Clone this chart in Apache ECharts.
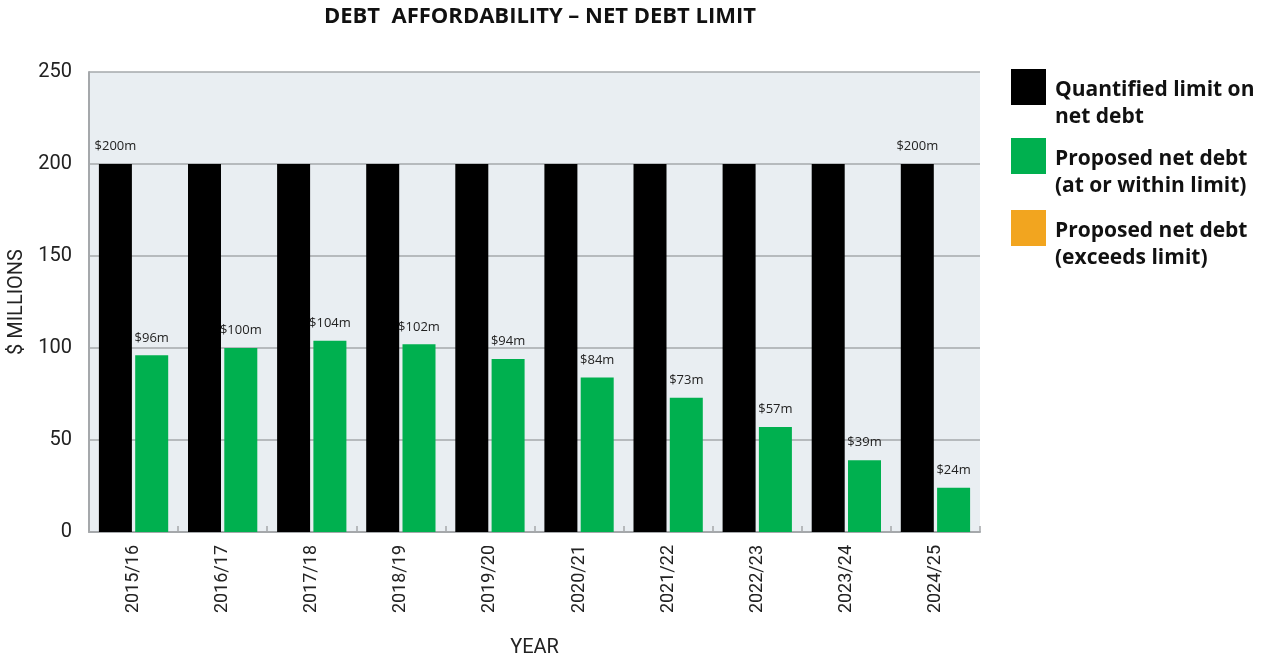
<!DOCTYPE html>
<html>
<head>
<meta charset="utf-8">
<title>Debt affordability - net debt limit</title>
<script src="https://cdn.jsdelivr.net/npm/echarts@6/dist/echarts.min.js"></script>
<style>
  html, body { margin: 0; padding: 0; background: #fff; }
  #chart { width: 1263px; height: 655px; }
</style>
</head>
<body>
<div id="chart"></div>
<script>
// data
var years = ['2015/16', '2016/17', '2017/18', '2018/19', '2019/20', '2020/21', '2021/22', '2022/23', '2023/24', '2024/25'];
var limitValues = [200, 200, 200, 200, 200, 200, 200, 200, 200, 200];
var proposedValues = [96, 100, 104, 102, 94, 84, 73, 57, 39, 24];
var yTicks = [0, 50, 100, 150, 200, 250];
var legendNames = ['Quantified limit on\nnet debt', 'Proposed net debt\n(at or within limit)', 'Proposed net debt\n(exceeds limit)'];
var legendColors = ['#000000', '#00b04f', '#f2a51f'];

var myChart = echarts.init(document.getElementById('chart'));

// only first and last limit bars carry a label
var limitData = limitValues.map(function (v, i) {
    return {
        value: v,
        label: { show: i === 0 || i === limitValues.length - 1 }
    };
});

var labelStyle = {
    show: true,
    position: 'top',
    distance: 11,
    fontFamily: 'Open Sans',
    fontSize: 13,
    color: '#222',
    formatter: function (p) { return '$' + p.value + 'm'; }
};

// legend drawn by hand: square + two-line bold text, first line level with the square
var legendTops = [69, 138, 210];
var legendGraphics = [];
legendNames.forEach(function (name, i) {
    legendGraphics.push({
        type: 'rect',
        left: 1011,
        top: legendTops[i],
        shape: { width: 35, height: 36 },
        style: { fill: legendColors[i] }
    });
    legendGraphics.push({
        type: 'text',
        left: 1055,
        top: legendTops[i] + 8,
        style: {
            text: name,
            fontFamily: 'Open Sans',
            fontWeight: 'bold',
            fontSize: 21,
            lineHeight: 27,
            fill: '#111'
        }
    });
});

var option = {
    animation: false,
    title: {
        text: 'DEBT  AFFORDABILITY \u2013 NET DEBT LIMIT',
        left: 535,
        top: 1,
        textAlign: 'center',
        textStyle: {
            fontFamily: 'Open Sans',
            fontWeight: 'bold',
            fontSize: 22,
            color: '#111'
        }
    },
    graphic: legendGraphics,
    grid: {
        left: 89,
        right: 283,
        top: 72,
        bottom: 123,
        outerBoundsMode: 'none',
        containLabel: false,
        show: true,
        backgroundColor: '#e9eef2',
        borderWidth: 0
    },
    xAxis: {
        type: 'category',
        data: years,
        name: 'YEAR',
        nameLocation: 'middle',
        nameGap: 106,
        nameTextStyle: { fontFamily: 'Roboto', fontSize: 20, color: '#222' },
        axisLine: { lineStyle: { color: '#a5a8ab', width: 2 } },
        axisTick: { show: true, inside: true, length: 6, lineStyle: { color: '#a5a8ab', width: 1.5 } },
        axisLabel: {
            rotate: 90,
            margin: 13,
            fontFamily: 'Roboto',
            fontSize: 18,
            color: '#222'
        }
    },
    yAxis: {
        type: 'value',
        min: yTicks[0],
        max: yTicks[yTicks.length - 1],
        interval: 50,
        name: '$ MILLIONS',
        nameLocation: 'middle',
        nameGap: 58,
        nameTextStyle: { fontFamily: 'Roboto', fontSize: 20, color: '#222' },
        axisLine: { show: true, lineStyle: { color: '#a5a8ab', width: 2 } },
        axisTick: { show: false },
        axisLabel: {
            margin: 17,
            fontFamily: 'Roboto',
            fontSize: 20,
            color: '#222'
        },
        splitLine: { lineStyle: { color: '#a5a8ab', width: 1.5 } }
    },
    series: [
        {
            name: legendNames[0],
            type: 'bar',
            data: limitData,
            barWidth: 33,
            barGap: '10%',
            itemStyle: { color: legendColors[0] },
            label: labelStyle
        },
        {
            name: legendNames[1],
            type: 'bar',
            data: proposedValues,
            barWidth: 33,
            barGap: '10%',
            itemStyle: { color: legendColors[1] },
            label: labelStyle
        }
    ]
};

myChart.setOption(option);
</script>
</body>
</html>
